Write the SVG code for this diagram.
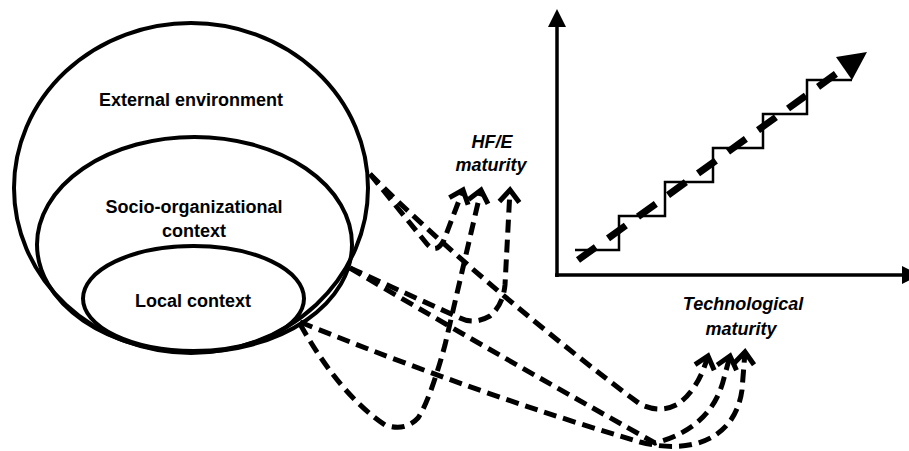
<svg xmlns="http://www.w3.org/2000/svg" width="909" height="451" viewBox="0 0 909 451">
<style>
.t{font-family:"Liberation Sans",Arial,sans-serif;font-size:18px;font-weight:bold;fill:#000;text-anchor:middle}
.i{font-style:italic}
.ring{fill:none;stroke:#000;stroke-width:4}
.c{fill:none;stroke:#000;stroke-width:5;stroke-dasharray:13 7;marker-end:url(#oa)}
</style>
<defs>
<marker id="oa" viewBox="-17 -14 24 28" markerWidth="24" markerHeight="28" refX="0" refY="0" orient="auto" markerUnits="userSpaceOnUse">
<path d="M-12,-10 L0,0 L-12,10" fill="none" stroke="#000" stroke-width="5"/>
</marker>
</defs>
<rect width="909" height="451" fill="#fff"/>
<g id="external">
<ellipse class="ring" cx="191" cy="188" rx="177" ry="165"/>
<text class="t" x="191" y="106">External environment</text>
</g>
<g id="socio">
<ellipse class="ring" cx="194.5" cy="244.5" rx="157.5" ry="107.5"/>
<text class="t" x="194" y="213">Socio-organizational</text>
<text class="t" x="194" y="237">context</text>
</g>
<g id="local">
<ellipse class="ring" cx="193.5" cy="298.5" rx="110.5" ry="52.5"/>
<text class="t" x="193" y="307">Local context</text>
</g>
<g id="hfe">
<text class="t i" x="492" y="148">HF/E</text>
<text class="t i" x="491" y="171">maturity</text>
</g>
<g id="tech">
<text class="t i" x="743" y="310">Technological</text>
<text class="t i" x="741" y="335">maturity</text>
</g>
<g id="chart">
<line x1="557" y1="277" x2="557" y2="26" stroke="#000" stroke-width="3.5"/>
<polygon points="557,9 548,27 566,27" fill="#000"/>
<line x1="555" y1="275" x2="903" y2="275" stroke="#000" stroke-width="3.5"/>
<polygon points="902,266 902,284 920,275" fill="#000"/>
<polyline points="575,250 619,250 619,216 665,216 665,182 713,182 713,148 763,148 763,114 807,114 807,80 852,80" fill="none" stroke="#000" stroke-width="2.5"/>
<line x1="578" y1="260" x2="840" y2="71" stroke="#000" stroke-width="7" stroke-dasharray="22 15"/>
<polygon points="836,57 867,52 852,80" fill="#000"/>
</g>
<g id="connectors">
<path class="c" d="M370,174 L427,244 Q436,255 444,240 L463,190"/>
<path class="c" d="M370,174 C440,245 560,345 640,404 Q660,414 678,404 Q698,390 708,356"/>
<path class="c" d="M350,268 L460,318 Q474,325 490,316 Q503,305 505,285 L510,190"/>
<path class="c" d="M350,268 Q480,345 655,443 Q712,428 724,378 L730,356"/>
<path class="c" d="M300,322 Q480,395 640,442 C690,455 735,440 742,390 L745,352"/>
<path class="c" d="M300,324 Q340,395 385,425 Q405,432 418,418 Q430,400 445,345 L481,190"/>
</g>
</svg>
